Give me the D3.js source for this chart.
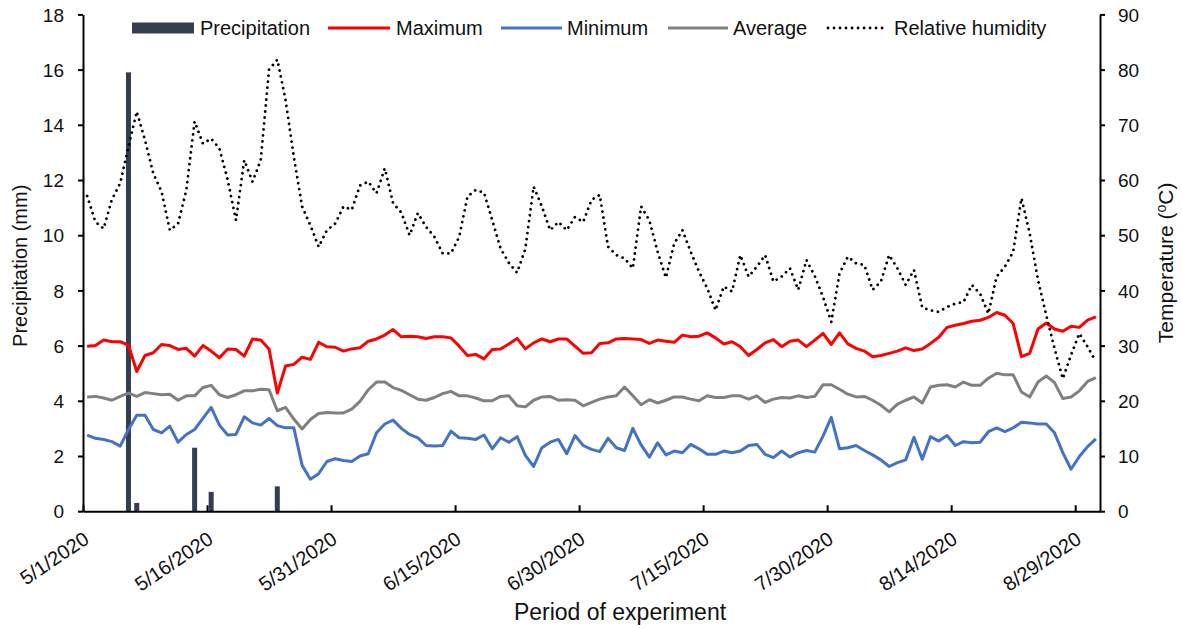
<!DOCTYPE html>
<html>
<head>
<meta charset="utf-8">
<script src="https://cdn.jsdelivr.net/npm/d3@7"></script>
<style>
  body { margin: 0; background: #fff; }
  text { font-family: "Liberation Sans", Arial, sans-serif; fill: #111; }
</style>
</head>
<body>
<svg id="chart" width="1182" height="629"></svg>
<script>
// ---- Data -------------------------------------------------------------
const startDay = "2020-05-01";
const endDay = "2020-09-01";          // axis end (exclusive)
const tickLabels = ["5/1/2020", "5/16/2020", "5/31/2020", "6/15/2020", "6/30/2020",
                    "7/15/2020", "7/30/2020", "8/14/2020", "8/29/2020"];

// Rain days (mm)
const precipDates = ["2020-05-06", "2020-05-07", "2020-05-14", "2020-05-16", "2020-05-24"];
const precipValues = [15.9, 0.3, 2.3, 0.7, 0.9];

// Daily temperatures (°C), 1 May – 31 Aug
const tempMax = [
  29.9, 30.0, 31.0, 30.7, 30.7, 30.1, 25.3, 28.2, 28.7, 30.2,
  30.0, 29.3, 29.5, 28.1, 30.0, 29.0, 27.8, 29.4, 29.3, 28.1,
  31.2, 31.0, 29.4, 21.4, 26.3, 26.6, 27.9, 27.5, 30.6, 29.8,
  29.7, 29.0, 29.4, 29.6, 30.8, 31.2, 31.9, 32.9, 31.6, 31.7,
  31.6, 31.3, 31.6, 31.6, 31.4, 29.9, 28.2, 28.4, 27.6, 29.3,
  29.4, 30.3, 31.3, 29.4, 30.5, 31.2, 30.7, 31.2, 31.2, 29.9,
  28.6, 28.7, 30.4, 30.5, 31.2, 31.3, 31.2, 31.1, 30.4, 31.0,
  30.8, 30.6, 31.9, 31.6, 31.7, 32.3, 31.4, 30.3, 30.7, 29.8,
  28.2, 29.3, 30.5, 31.1, 29.8, 30.8, 31.0, 29.8, 31.0, 32.2,
  30.2, 32.3, 30.3, 29.5, 29.0, 28.0, 28.2, 28.6, 29.0, 29.6,
  29.1, 29.4, 30.4, 31.5, 33.3, 33.7, 34.0, 34.4, 34.6, 35.1,
  36.0, 35.5, 34.0, 28.0, 28.6, 33.0, 34.1, 33.0, 32.6, 33.5,
  33.3, 34.6, 35.2
];
const tempMin = [
  13.8, 13.2, 13.0, 12.6, 11.8, 14.8, 17.4, 17.4, 14.8, 14.2,
  15.4, 12.5, 13.9, 14.8, 16.8, 18.8, 15.6, 13.8, 13.9, 17.1,
  16.0, 15.6, 16.8, 15.5, 15.1, 15.1, 8.3, 5.8, 6.8, 9.0,
  9.5, 9.2, 9.0, 10.0, 10.4, 14.2, 15.8, 16.5, 15.0, 13.9,
  13.3, 11.9, 11.8, 11.9, 14.5, 13.3, 13.2, 13.0, 13.8, 11.3,
  13.3, 12.5, 13.5, 10.1, 8.1, 11.5, 12.5, 13.0, 10.4, 13.7,
  11.9, 11.2, 10.8, 13.2, 11.5, 11.0, 15.0, 12.0, 9.8, 12.4,
  10.2, 10.9, 10.6, 12.1, 11.3, 10.3, 10.3, 10.9, 10.6, 10.9,
  11.9, 12.1, 10.3, 9.7, 10.9, 9.8, 10.6, 11.0, 10.7, 13.6,
  17.0, 11.3, 11.5, 11.9, 11.0, 10.2, 9.3, 8.1, 8.8, 9.3,
  13.4, 9.4, 13.5, 12.7, 13.7, 11.9, 12.6, 12.4, 12.5, 14.4,
  15.1, 14.4, 15.1, 16.1, 16.0, 15.8, 15.8, 14.2, 10.6, 7.6,
  9.9, 11.7, 13.1
];
const tempAvg = [
  20.7, 20.8, 20.5, 20.1, 20.8, 21.4, 20.8, 21.5, 21.3, 21.1,
  21.2, 20.1, 20.9, 20.9, 22.4, 22.8, 21.1, 20.6, 21.1, 21.8,
  21.8, 22.1, 22.0, 18.2, 18.8, 16.7, 14.9, 16.6, 17.7, 17.9,
  17.8, 17.8, 18.5, 19.9, 22.0, 23.4, 23.4, 22.4, 21.9, 21.1,
  20.3, 20.1, 20.6, 21.3, 21.7, 20.9, 20.9, 20.5, 20.0, 20.0,
  20.8, 20.9, 19.1, 18.9, 20.1, 20.7, 20.8, 20.1, 20.2, 20.1,
  19.1, 19.7, 20.3, 20.7, 20.9, 22.5, 20.9, 19.3, 20.2, 19.6,
  20.1, 20.7, 20.7, 20.3, 20.0, 20.9, 20.6, 20.6, 20.9, 20.9,
  20.3, 20.9, 19.7, 20.3, 20.6, 20.5, 20.9, 20.6, 20.8, 22.9,
  22.9, 22.1, 21.2, 20.7, 20.8, 20.1, 19.2, 18.0, 19.4, 20.1,
  20.7, 19.6, 22.5, 22.8, 22.9, 22.5, 23.4, 22.8, 22.8, 24.1,
  25.0, 24.7, 24.7, 21.6, 20.7, 23.4, 24.5, 23.3, 20.4, 20.7,
  21.8, 23.5, 24.2
];
// Daily relative humidity (%), plotted against the right-hand scale
const humidity = [
  57.1, 52.4, 51.2, 56.5, 59.4, 66.0, 72.4, 67.2, 61.2, 57.9,
  50.9, 52.1, 58.2, 70.6, 66.6, 67.5, 65.7, 60.0, 52.7, 63.6,
  59.7, 63.6, 80.0, 81.8, 74.5, 64.2, 55.2, 51.8, 47.9, 50.9,
  52.1, 55.2, 54.6, 59.0, 59.7, 57.6, 62.1, 55.8, 54.1, 50.0,
  54.0, 51.5, 49.7, 46.7, 46.7, 49.7, 57.0, 58.2, 57.7, 52.7,
  47.6, 45.0, 43.2, 47.5, 58.8, 55.2, 50.9, 52.4, 50.9, 53.3,
  52.4, 56.4, 57.3, 47.9, 46.4, 45.8, 44.0, 55.2, 52.7, 47.0,
  42.3, 48.5, 50.9, 47.0, 43.4, 40.4, 36.4, 40.7, 39.8, 46.4,
  42.5, 44.3, 46.4, 41.6, 42.5, 44.0, 40.1, 45.5, 42.6, 38.8,
  34.3, 43.1, 46.1, 44.9, 44.6, 40.1, 41.6, 46.4, 44.0, 41.0,
  43.7, 36.9, 36.4, 36.1, 37.0, 37.6, 37.9, 41.0, 39.4, 35.8,
  42.5, 44.3, 47.0, 56.7, 50.3, 41.9, 35.5, 29.5, 24.0, 28.3,
  32.2, 29.8, 27.1
];

// ---- Layout ----------------------------------------------------------
const svg = d3.select("#chart");
const W = 1182, H = 629;
const plot = { left: 83, right: 1100, top: 14.4, bottom: 511.2 };

const parse = d3.timeParse("%Y-%m-%d");
const fmt = d3.timeFormat("%-m/%-d/%Y");
const t0 = parse(startDay), t1 = parse(endDay);
const days = d3.timeDay.range(t0, t1);           // one category per day
const mid = d => d3.timeHour.offset(d, 12);      // plot each day in the middle of its slot

const x = d3.scaleTime().domain([t0, t1]).range([plot.left, plot.right]);
const yL = d3.scaleLinear().domain([0, 18]).range([plot.bottom, plot.top]);
const yR = d3.scaleLinear().domain([0, 90]).range([plot.bottom, plot.top]);

svg.append("rect").attr("width", W).attr("height", H).attr("fill", "#fff");

// ---- Precipitation columns (left axis) --------------------------------
const barW = 5;
svg.append("g").selectAll("rect")
  .data(precipDates.map((d, i) => ({ date: parse(d), v: precipValues[i] })))
  .join("rect")
  .attr("x", d => x(mid(d.date)) - barW / 2)
  .attr("width", barW)
  .attr("y", d => yL(d.v))
  .attr("height", d => yL(0) - yL(d.v))
  .attr("fill", "#333f50");

// ---- Lines (right axis) -------------------------------------------------
const series = [
  { name: "Maximum", values: tempMax, color: "#ff0000", width: 3, dash: null },
  { name: "Minimum", values: tempMin, color: "#4472c4", width: 3, dash: null },
  { name: "Average", values: tempAvg, color: "#808080", width: 3, dash: null },
  { name: "Relative humidity", values: humidity, color: "#000000", width: 2.8, dash: "0.01 6" }
];
const line = d3.line().x((d, i) => x(mid(days[i]))).y(d => yR(d));
svg.append("g").selectAll("path")
  .data(series)
  .join("path")
  .attr("d", s => line(s.values))
  .attr("fill", "none")
  .attr("stroke", s => s.color)
  .attr("stroke-width", s => s.width)
  .attr("stroke-linejoin", "round")
  .attr("stroke-linecap", s => s.dash ? "round" : "butt")
  .attr("stroke-dasharray", s => s.dash);

// ---- Axes ---------------------------------------------------------------
const axisColor = "#000";
const tickFont = 19;

const leftAxis = svg.append("g")
  .attr("transform", `translate(${plot.left},0)`)
  .call(d3.axisLeft(yL).tickValues(d3.range(0, 19, 2)).tickSize(5).tickPadding(14).tickSizeOuter(0));
const rightAxis = svg.append("g")
  .attr("transform", `translate(${plot.right},0)`)
  .call(d3.axisRight(yR).tickValues(d3.range(0, 91, 10)).tickSize(5).tickPadding(13).tickSizeOuter(0));

const tickDates = tickLabels.map(d3.timeParse("%-m/%-d/%Y"));
const bottomAxis = svg.append("g")
  .attr("transform", `translate(0,${plot.bottom})`)
  .call(d3.axisBottom(x).tickValues(tickDates).tickFormat(fmt).tickSizeInner(-6).tickSizeOuter(0));

[leftAxis, rightAxis, bottomAxis].forEach(g => {
  g.select(".domain").attr("stroke", axisColor).attr("stroke-width", 2);
  g.selectAll(".tick line").attr("stroke", axisColor).attr("stroke-width", 2);
  g.selectAll("text").attr("font-size", tickFont).attr("fill", "#111")
    .attr("font-family", '"Liberation Sans", Arial, sans-serif');
});
leftAxis.selectAll("text").attr("dy", "0.35em");
rightAxis.selectAll("text").attr("dy", "0.35em");

bottomAxis.selectAll(".tick text")
  .attr("text-anchor", "end")
  .attr("font-size", 20)
  .attr("dy", null)
  .attr("y", null)
  .attr("transform", "translate(7,31) rotate(-34)");

// ---- Axis titles --------------------------------------------------------
svg.append("text")
  .attr("transform", `translate(27,${(plot.top + plot.bottom) / 2 + 3}) rotate(-90)`)
  .attr("text-anchor", "middle")
  .attr("font-size", 20)
  .text("Precipitation (mm)");

const rt = svg.append("text")
  .attr("transform", `translate(1173,${(plot.top + plot.bottom) / 2}) rotate(-90)`)
  .attr("text-anchor", "middle")
  .attr("font-size", 21);
rt.append("tspan").text("Temperature (");
rt.append("tspan").attr("font-size", 14).attr("dy", -7).text("o");
rt.append("tspan").attr("dy", 7).text("C)");

svg.append("text")
  .attr("x", 620)
  .attr("y", 620)
  .attr("text-anchor", "middle")
  .attr("font-size", 23)
  .text("Period of experiment");

// ---- Legend ---------------------------------------------------------------
const legendY = 28;
const legend = svg.append("g").attr("font-size", 20);
legend.append("rect").attr("x", 132).attr("y", legendY - 5.5).attr("width", 62).attr("height", 11).attr("fill", "#333f50");
legend.append("text").attr("x", 200).attr("y", legendY).attr("dy", "0.36em").text("Precipitation");

const legendLines = [
  { s: series[0], x0: 328, x1: 390, tx: 396 },
  { s: series[1], x0: 501, x1: 562, tx: 567 },
  { s: series[2], x0: 668, x1: 728, tx: 733 },
  { s: series[3], x0: 828, x1: 887, tx: 894 }
];
legendLines.forEach(l => {
  legend.append("line")
    .attr("x1", l.x0).attr("x2", l.x1).attr("y1", legendY).attr("y2", legendY)
    .attr("stroke", l.s.color).attr("stroke-width", l.s.width)
    .attr("stroke-linecap", l.s.dash ? "round" : "butt")
    .attr("stroke-dasharray", l.s.dash);
  legend.append("text").attr("x", l.tx).attr("y", legendY).attr("dy", "0.36em").text(l.s.name);
});
</script>
</body>
</html>
